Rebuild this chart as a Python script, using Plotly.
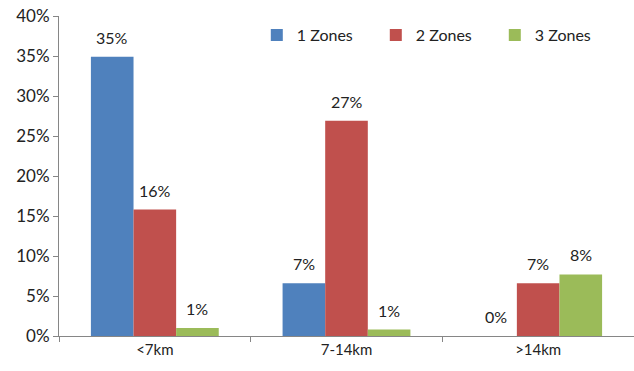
import plotly.graph_objects as go

categories = ["<7km", "7-14km", ">14km"]
series_names = ["1 Zones", "2 Zones", "3 Zones"]
zone1 = [0.349, 0.066, 0.0]
zone2 = [0.158, 0.269, 0.066]
zone3 = [0.010, 0.008, 0.077]
colors = ["#4F81BD", "#C0504D", "#9BBB59"]

FONT = "Lato, Open Sans, sans-serif"
BARGAP = 0.333

fig = go.Figure()
series = [zone1, zone2, zone3]
for name, vals, col in zip(series_names, series, colors):
    fig.add_trace(go.Bar(
        x=categories, y=vals, name=name,
        marker=dict(color=col, line=dict(width=0)),
    ))

# value labels above bars
bw = (1 - BARGAP) / len(series)
for k, vals in enumerate(series):
    for i, v in enumerate(vals):
        fig.add_annotation(
            x=i + (k - (len(series) - 1) / 2) * bw, y=v,
            text=f"{v:.0%}", showarrow=False,
            xanchor="center", yanchor="bottom", yshift=8,
            font=dict(size=16, color="#222222", family=FONT),
        )

fig.update_layout(
    width=634, height=371,
    margin=dict(l=59, r=0, t=16, b=35, autoexpand=False),
    paper_bgcolor="white", plot_bgcolor="white",
    barmode="group", bargap=BARGAP, bargroupgap=0,
    font=dict(family=FONT, size=15, color="#222222"),
    showlegend=True,
    legend=dict(orientation="h", x=0.344, y=0.94, xanchor="left", yanchor="middle",
                font=dict(size=16, color="#222222"),
                entrywidth=74, entrywidthmode="pixels",
                bgcolor="rgba(0,0,0,0)", traceorder="normal"),
)
fig.update_xaxes(
    type="category", range=[-0.5, 2.5], showgrid=False, showline=True,
    linecolor="#868686", linewidth=1,
    ticks="outside", tickson="boundaries", ticklen=5, tickcolor="#868686",
    tickfont=dict(size=15, color="#222222"),
)
fig.update_yaxes(
    range=[0, 0.4], dtick=0.05, tickformat=".0%", showgrid=False, zeroline=False,
    showline=True, linecolor="#868686", linewidth=1,
    ticks="outside", ticklen=5, tickcolor="#868686",
    tickfont=dict(size=17, color="#222222"),
)

fig.write_html("out.html")
